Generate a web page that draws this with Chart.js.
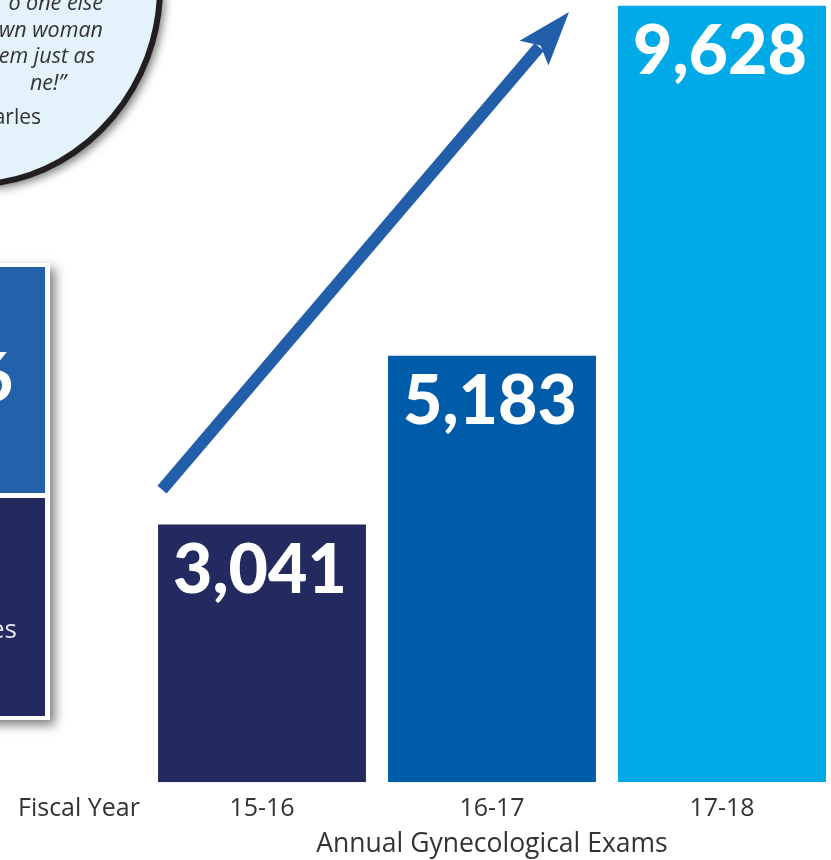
<!DOCTYPE html>
<html><head><meta charset="utf-8">
<script src="https://cdn.jsdelivr.net/npm/chart.js@4/dist/chart.umd.min.js"></script>
<style>
html,body{margin:0;padding:0;background:#fff;overflow:hidden;width:831px;height:860px}
#wrap{position:absolute;left:0;top:0;width:837px;height:860px}
</style></head>
<body><div id="wrap"><canvas id="c"></canvas></div>
<script>
// ---- data ----
const fiscalYears = ['15-16', '16-17', '17-18'];
const annualExams = [3041, 5183, 9628];
const barColors = ['#232a5f', '#005ca8', '#00aae6'];
const axisTitle = 'Annual Gynecological Exams';
const rowLabel = 'Fiscal Year';
const quoteLines = ['o one else', 'wn woman', 'em just as', 'ne!\u201D'];
const quoteAuthor = 'arles';
const cardNumberTail = '6';
const cardTextTail = 'es';

const Y_MIN = -230, Y_MAX = 9700;
const TEXT = '#333333';
const FONT = 'Lato';
const AXFONT = '"Open Sans"';

const decor = {
  id: 'decor',
  beforeDraw(chart) {
    const ctx = chart.ctx;
    // speech bubble (partially visible)
    ctx.save();
    ctx.beginPath();
    ctx.moveTo(-10, -10);
    ctx.lineTo(160, -10);
    ctx.bezierCurveTo(159, 82, 92, 172, -10, 184);
    ctx.closePath();
    ctx.shadowColor = 'rgba(0,0,0,0.5)';
    ctx.shadowBlur = 9; ctx.shadowOffsetX = 5; ctx.shadowOffsetY = 5;
    ctx.fillStyle = '#e4f3fb';
    ctx.fill();
    ctx.shadowColor = 'transparent';
    ctx.beginPath();
    ctx.moveTo(160, -10);
    ctx.bezierCurveTo(159, 82, 92, 172, -10, 184);
    ctx.lineWidth = 6; ctx.strokeStyle = '#231f20';
    ctx.stroke();
    ctx.fillStyle = TEXT;
    ctx.font = 'italic 21.5px ' + AXFONT;
    ctx.textAlign = 'right'; ctx.textBaseline = 'alphabetic';
    const ends = [103, 103, 95, 66];
    quoteLines.forEach((t, i) => ctx.fillText(t, ends[i], 10 + i * 26.7));
    ctx.font = '21px ' + AXFONT;
    ctx.fillText(quoteAuthor, 41, 124);
    ctx.restore();

    // side card (partially visible)
    ctx.save();
    ctx.shadowColor = 'rgba(0,0,0,0.5)';
    ctx.shadowBlur = 10; ctx.shadowOffsetX = 5; ctx.shadowOffsetY = 5;
    ctx.fillStyle = '#ffffff';
    ctx.fillRect(-20, 263, 70, 457);
    ctx.shadowColor = 'transparent';
    ctx.fillStyle = '#2461ab';
    ctx.fillRect(-20, 267, 65, 226);
    ctx.fillStyle = '#232a5f';
    ctx.fillRect(-20, 498, 65, 218);
    ctx.fillStyle = '#ffffff';
    ctx.font = '900 66px ' + FONT;
    ctx.textAlign = 'right'; ctx.textBaseline = 'alphabetic';
    ctx.fillText(cardNumberTail, 13, 401);
    ctx.fillStyle = '#e6e6ee';
    ctx.font = '26px ' + AXFONT;
    ctx.fillText(cardTextTail, 17, 638);
    ctx.restore();
  },
  afterDatasetsDraw(chart) {
    const ctx = chart.ctx;
    const meta = chart.getDatasetMeta(0);
    // value labels
    ctx.save();
    ctx.fillStyle = '#ffffff';
    ctx.font = '900 68px ' + FONT;
    ctx.textAlign = 'center'; ctx.textBaseline = 'alphabetic';
    meta.data.forEach((bar, i) => {
      ctx.fillText(annualExams[i].toLocaleString('en-US'), bar.x - 2, bar.y + 68);
    });
    ctx.restore();

    // growth arrow from first bar toward last bar
    const b0 = meta.data[0], b2 = meta.data[2];
    const sx = b0.x - b0.width / 2 + 4, sy = b0.y - 35;
    const tx = b2.x - b2.width / 2 - 49, ty = chart.chartArea.top + 12;
    const ang = Math.atan2(ty - sy, tx - sx);
    const headLen = 50, headHalf = 19;
    const bx = tx - headLen * Math.cos(ang), by = ty - headLen * Math.sin(ang);
    ctx.save();
    ctx.strokeStyle = '#235eaa'; ctx.fillStyle = '#235eaa';
    ctx.lineWidth = 12; ctx.lineCap = 'butt';
    ctx.beginPath(); ctx.moveTo(sx, sy); ctx.lineTo(bx + 4 * Math.cos(ang), by + 4 * Math.sin(ang)); ctx.stroke();
    const px = -Math.sin(ang), py = Math.cos(ang);
    ctx.beginPath();
    ctx.moveTo(tx, ty);
    ctx.lineTo(bx + px * headHalf - 4 * Math.cos(ang), by + py * headHalf - 4 * Math.sin(ang));
    ctx.lineTo(bx + 6 * Math.cos(ang), by + 6 * Math.sin(ang));
    ctx.lineTo(bx - px * headHalf - 4 * Math.cos(ang), by - py * headHalf - 4 * Math.sin(ang));
    ctx.closePath(); ctx.fill();
    ctx.restore();
  },
  afterDraw(chart) {
    const ctx = chart.ctx;
    const xs = chart.scales.x;
    ctx.save();
    ctx.fillStyle = TEXT;
    ctx.font = '25px ' + AXFONT;
    ctx.textAlign = 'left'; ctx.textBaseline = 'middle';
    ctx.fillText(rowLabel, 18, xs.top + 12 + 15);
    ctx.restore();
  }
};

new Chart(document.getElementById('c'), {
  type: 'bar',
  data: {
    labels: fiscalYears,
    datasets: [{
      data: annualExams,
      backgroundColor: barColors,
      borderWidth: 0,
      base: Y_MIN,
      barPercentage: 0.904,
      categoryPercentage: 1.0
    }]
  },
  options: {
    responsive: true,
    maintainAspectRatio: false,
    animation: false,
    devicePixelRatio: 1,
    layout: { padding: { left: 147, right: 0, top: 0, bottom: 0 } },
    plugins: { legend: { display: false }, tooltip: { enabled: false } },
    scales: {
      x: {
        grid: { display: false, drawTicks: false },
        border: { display: false },
        ticks: { color: TEXT, font: { family: AXFONT, size: 25 }, padding: 12 },
        title: { display: true, text: axisTitle, color: TEXT, font: { family: AXFONT, size: 26.5 }, padding: { top: -8, bottom: 0 } }
      },
      y: { display: false, min: Y_MIN, max: Y_MAX }
    }
  },
  plugins: [decor]
});
</script>
</body></html>
